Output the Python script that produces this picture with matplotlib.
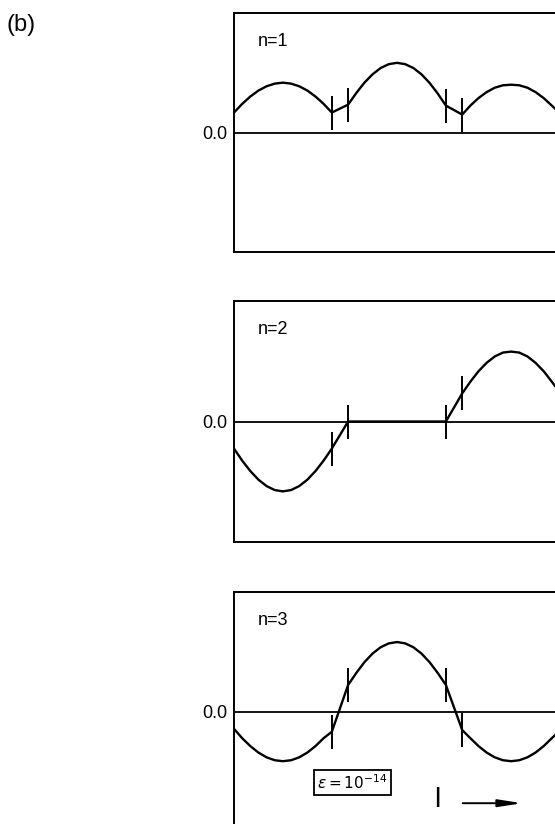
import numpy as np
import matplotlib
matplotlib.use("Agg")
import matplotlib.pyplot as plt

plt.rcParams['font.family'] = ['Liberation Sans', 'DejaVu Sans']
plt.rcParams['mathtext.fontset'] = 'dejavusans'

# positions along l (arbitrary units, frame starts at 0)
pos = [0, .25, .5, .75, 1, 1.25, 1.5, 1.75, 2, 2.25, 2.5, 2.75, 3.0,
       3.5, 3.75, 4, 4.25, 4.5, 4.75, 5, 5.25, 5.5, 5.75, 6, 6.25, 6.5,
       7.0, 7.25, 7.5, 7.75, 8, 8.25, 8.5, 8.75, 9, 9.25, 9.5, 9.75, 10]

psi_n1 = [0.167, 0.239, 0.301, 0.351, 0.387, 0.409, 0.417, 0.409, 0.387, 0.351, 0.301, 0.239, 0.167,
          0.233, 0.330, 0.417, 0.487, 0.540, 0.572, 0.583, 0.572, 0.540, 0.487, 0.415, 0.326, 0.225,
          0.150, 0.225, 0.288, 0.338, 0.375, 0.395, 0.400, 0.395, 0.375, 0.338, 0.288, 0.225, 0.160]

psi_n2 = [-0.225, -0.324, -0.411, -0.483, -0.536, -0.569, -0.580, -0.569, -0.536, -0.483, -0.411, -0.324, -0.225,
          0, 0, 0, 0, 0, 0, 0, 0, 0, 0, 0, 0, 0,
          0.233, 0.330, 0.417, 0.487, 0.540, 0.572, 0.580, 0.572, 0.540, 0.487, 0.417, 0.330, 0.240]

psi_n3 = [-0.140, -0.218, -0.284, -0.338, -0.378, -0.402, -0.410, -0.402, -0.378, -0.338, -0.284, -0.218, -0.165,
          0.225, 0.325, 0.415, 0.487, 0.540, 0.572, 0.583, 0.572, 0.540, 0.487, 0.415, 0.325, 0.225,
          -0.150, -0.218, -0.284, -0.338, -0.378, -0.402, -0.410, -0.402, -0.378, -0.338, -0.284, -0.218, -0.155]

barrier_x = [3.0, 3.5, 6.5, 7.0]
labels = ["n=1", "n=2", "n=3"]

W, H = 555, 824
fig = plt.figure(figsize=(W / 100, H / 100), dpi=100)

# panel frames in pixels: (top, bottom)
frames = [(13, 252), (301, 542), (592, 832)]
left_px, right_px = 234, 560

pos_arr = np.array(pos)
axes = []
for (top, bot), psi, lab in zip(frames, [psi_n1, psi_n2, psi_n3], labels):
    ax = fig.add_axes([left_px / W, 1 - bot / H, (right_px - left_px) / W, (bot - top) / H])
    ax.set_xlim(0, 10)
    ax.set_ylim(-1, 1)
    psi = np.array(psi)
    ax.axhline(0, color='black', lw=1.3)
    ax.plot(pos_arr, psi, color='black', lw=1.7, solid_joinstyle='round')
    m = np.isin(pos_arr, barrier_x)
    ax.plot(pos_arr[m], psi[m], ls='none', marker='|', ms=25, mew=1.4, color='black')
    ax.set_xticks([])
    ax.set_yticks([0])
    ax.set_yticklabels(['0.0'])
    ax.tick_params(axis='y', length=0, pad=5, labelsize=13)
    for s in ax.spines.values():
        s.set_linewidth(1.4)
    ax.text(0.072, 0.88, lab, transform=ax.transAxes, fontsize=13, ha='left', va='center')
    axes.append(ax)

ax3 = axes[2]
ax3.text(3.63, -0.59, r'$\varepsilon = 10^{-14}$', fontsize=11, ha='center', va='center',
         bbox=dict(boxstyle='square,pad=0.2', fc='white', ec='black', lw=1.3))
ax3.text(6.23, -0.73, 'l', fontsize=20, ha='center', va='center')
ax3.annotate('', xy=(8.92, -0.76), xytext=(6.93, -0.76),
             arrowprops=dict(arrowstyle='-|>,head_length=1.4,head_width=0.22', color='black', lw=1.4))

fig.text(6 / W, 1 - 25 / H, '(b)', fontsize=17, ha='left', va='center')

fig.savefig('out.png', dpi=100)
